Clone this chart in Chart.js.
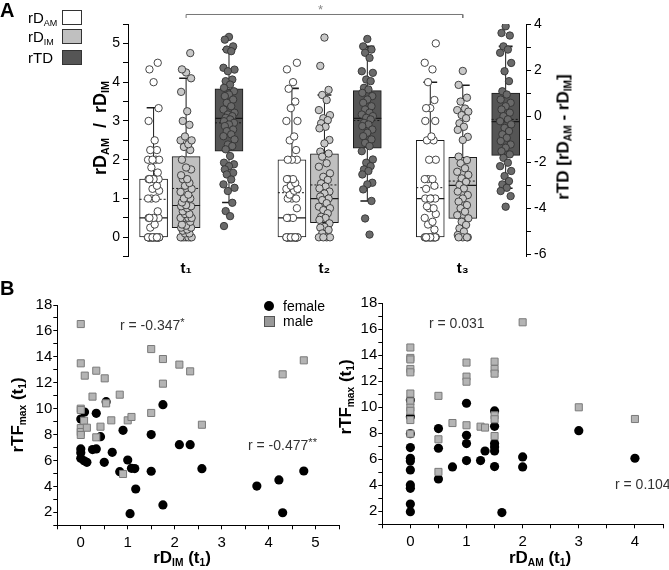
<!DOCTYPE html>
<html><head><meta charset="utf-8">
<script src="https://cdn.jsdelivr.net/npm/chart.js@4.4.1/dist/chart.umd.min.js"></script>
<style>
body{margin:0;background:#fff;width:669px;height:570px;position:relative;overflow:hidden;font-family:'Liberation Sans',Arial,Helvetica,sans-serif;color:#000}
canvas{position:absolute}
.t{position:absolute;white-space:nowrap;line-height:1}
.rot{transform:translate(-50%,-50%) rotate(-90deg)}
.ctr{transform:translate(-50%,-50%)}
.b{font-weight:bold}
sub{font-size:0.6em;vertical-align:baseline;position:relative;top:0.32em}
sup{font-size:0.8em;vertical-align:baseline;position:relative;top:-0.4em}
.lb{position:absolute;width:18px;height:13px;border:1px solid #333}
</style></head>
<body>
<canvas id="ca" width="669" height="280" style="left:0;top:0"></canvas>
<canvas id="cbl" width="345" height="290" style="left:0;top:280px"></canvas>
<canvas id="cbr" width="329" height="290" style="left:340px;top:280px"></canvas>

<div class="t b" style="left:0;top:0;font-size:20px">A</div>
<div class="t b" style="left:0;top:278px;font-size:20px">B</div>

<div class="t" style="left:28px;top:10px;font-size:15px">rD<sub>AM</sub></div>
<div class="t" style="left:28px;top:29px;font-size:15px">rD<sub>IM</sub></div>
<div class="t" style="left:28px;top:50px;font-size:15px">rTD</div>
<div class="lb" style="left:62px;top:10px;background:#fff"></div>
<div class="lb" style="left:62px;top:29px;background:#c0c0c0"></div>
<div class="lb" style="left:62px;top:50px;background:#555"></div>

<div class="t" style="left:318px;top:3px;font-size:13px;color:#888">*</div>

<div class="t b rot" style="left:100px;top:128px;font-size:18px">rD<sub>AM</sub>&nbsp; / &nbsp;rD<sub>IM</sub></div>
<div class="t b rot" style="left:563px;top:137px;font-size:17px">rTD [rD<sub>AM</sub> - rD<sub>IM</sub>]</div>

<div class="t b rot" style="left:17px;top:415px;font-size:17px">rTF<sub>max</sub> (t<sub>1</sub>)</div>
<div class="t b rot" style="left:345px;top:397px;font-size:17px">rTF<sub>max</sub> (t<sub>1</sub>)</div>
<div class="t b ctr" style="left:182px;top:557px;font-size:17px">rD<sub>IM</sub> (t<sub>1</sub>)</div>
<div class="t b ctr" style="left:540px;top:557px;font-size:17px">rD<sub>AM</sub> (t<sub>1</sub>)</div>

<div class="t" style="left:120px;top:318px;font-size:14px;color:#333">r = -0.347<sup>*</sup></div>
<div class="t" style="left:248px;top:438px;font-size:14px;color:#333">r = -0.477<sup>**</sup></div>
<div class="t" style="left:429px;top:316px;font-size:14px;color:#333">r = 0.031</div>
<div class="t" style="left:615px;top:477px;font-size:14px;color:#333">r = 0.104</div>

<div style="position:absolute;left:264px;top:301px;width:10px;height:10px;border-radius:50%;background:#000"></div>
<div class="t" style="left:283px;top:299px;font-size:14px">female</div>
<div style="position:absolute;left:264px;top:316px;width:9px;height:9px;background:#999;border:1px solid #555"></div>
<div class="t" style="left:283px;top:314px;font-size:14px">male</div>

<script>
// ---------------- DATA ----------------
const GROUP_LABELS = ['t\u2081', 't\u2082', 't\u2083'];
const SERIES_NAMES = ['rDAM', 'rDIM', 'rTD'];
// box statistics per group: [whiskerLow, q1, median, q3, whiskerHigh, mean]
const STAT_AM = [[0, 0, 0.5, 1.5, 3.34, 0.98], [0, 0, 0.5, 2.0, 3.84, 1.15], [0, 0, 1.0, 2.5, 4.0, 1.28]];
const STAT_IM = [[0, 0.25, 0.82, 2.08, 4.1, 1.26], [0, 0.38, 1.0, 2.15, 3.67, 1.35], [0, 0.49, 1.34, 2.06, 3.92, 1.45]];
const STAT_TD = [[-3.75, -1.52, -0.1, 1.19, 2.89, -0.29], [-3.68, -1.39, -0.1, 1.11, 3.03, -0.19], [-3.13, -1.7, -0.24, 1.0, 3.03, -0.14]];

const AM_T1 = [0,0,0,0,0,0,0,0,0,0,0,0,0,0,0,0,0,0,0,0,0,0,0.25,0.33,0.5,0.5,0.5,0.5,0.67,1,1,1,1.2,1.25,1.33,1.5,1.5,1.5,1.5,1.5,1.5,1.67,1.8,2,2,2,2,2.25,2.25,2.5,3,3.33,4,4.33,4.5];
const IM_T1 = [0,0,0,0,0,0,0,0.1,0.1,0.17,0.2,0.25,0.25,0.3,0.33,0.4,0.5,0.5,0.5,0.5,0.6,0.6,0.67,0.75,0.8,0.8,0.83,0.9,1,1,1.1,1.17,1.25,1.33,1.4,1.5,1.5,1.6,1.75,1.8,2,2.25,2.33,2.4,2.5,2.5,2.6,2.9,3,3.25,3.75,4.1,4.25,4.33,4.75];
const TD_T1 = [3.44,3.32,3.03,2.89,2.82,2.1,2.02,1.95,1.59,1.52,1.37,1.23,1.08,0.94,0.87,0.72,0.58,0.43,0.29,0.15,0.07,0,-0.07,-0.14,-0.22,-0.29,-0.36,-0.43,-0.58,-0.65,-0.79,-0.87,-1.01,-1.23,-1.3,-1.44,-1.73,-2.02,-2.09,-2.17,-2.31,-2.46,-2.53,-2.75,-2.96,-3.11,-3.25,-3.76,-4.12,-4.34,-4.77];
const AM_T2 = [0,0,0,0,0,0,0,0,0,0,0,0,0,0,0,0,0,0,0,0,0,0,0.5,0.5,0.5,0.75,1,1,1,1.1,1.2,1.25,1.25,1.33,1.4,1.5,1.5,1.5,2,2,2,2.25,2.5,2.6,3,3,3.33,3.5,3.83,4,4.33,4.5];
const IM_T2 = [5.15,4.42,3.8,3.67,3.54,3.28,3.15,3.07,3.02,2.94,2.85,2.81,2.51,2.42,2.21,2.16,2.08,1.91,1.82,1.65,1.56,1.48,1.39,1.31,1.26,1.18,1.13,1.05,1,0.96,0.88,0.79,0.75,0.7,0.62,0.53,0.5,0.45,0.36,0.27,0.25,0.19,0.1,0,0,0,0];
const TD_T2 = [3.35,3.03,2.89,2.75,2.53,1.95,1.88,1.59,1.52,1.23,1.16,1.01,0.87,0.72,0.58,0.43,0.29,0.15,0.07,0,-0.07,-0.14,-0.29,-0.36,-0.43,-0.58,-0.72,-0.87,-1.01,-1.16,-1.3,-1.52,-1.88,-2.02,-2.17,-2.31,-2.38,-2.53,-2.89,-2.96,-3.18,-3.68,-4.44,-5.14];
const AM_T3 = [0,0,0,0,0,0,0,0,0,0,0,0,0,0,0,0.2,0.33,0.4,0.5,0.6,0.75,0.75,0.8,1,1,1,1,1.25,1.33,1.5,1.5,1.5,2,2,2.5,2.5,2.6,3,3,3.33,3.33,3.54,4,4.33,4.5,5];
const IM_T3 = [4.29,3.93,3.6,3.5,3.32,3.28,3.24,3.15,3.07,2.94,2.85,2.77,2.59,2.51,2.08,1.99,1.91,1.78,1.69,1.61,1.52,1.43,1.35,1.26,1.18,1.09,1,0.92,0.83,0.75,0.66,0.57,0.49,0.4,0.32,0.23,0.15,0.06,0,0,0,0];
const TD_T3 = [3.9,3.61,3.5,3.03,2.89,2.75,2.31,1.95,1.52,1.08,0.94,0.72,0.58,0.43,0.29,0.15,0,-0.14,-0.22,-0.36,-0.51,-0.65,-0.79,-0.94,-1.08,-1.23,-1.37,-1.52,-1.66,-1.81,-2.02,-2.17,-2.38,-2.6,-2.82,-2.96,-3.11,-3.25,-3.47,-3.93];

const A_LEFT_LABELS = [0, 1, 2, 3, 4, 5];
const A_RIGHT_LABELS = [-6, -4, -2, 0, 2, 4];

// Panel B left: rD_IM(t1) vs rTF_max(t1)
const BL_FEMALE_X = [0.54,1.75,0.08,0.33,0,0.42,0.9,1.5,2.1,2.33,0,0,0.25,0.33,0.67,0,0.07,0.13,0.5,1.0,2.58,0.83,1.08,1.15,1.5,1.17,1.75,1.05,3.75,4.22,4.3,4.75];
const BL_FEMALE_Y = [10.54,10.31,9.74,9.64,9.2,7.84,8.33,8.0,7.22,7.22,6.89,6.6,6.84,6.89,6.63,6.17,5.98,5.86,5.86,6.04,5.37,5.14,5.4,5.38,5.17,3.8,2.57,1.9,4.03,4.5,1.97,5.19];
const BL_MALE_X = [0,0,0.085,0.33,0.51,0.25,0.83,1.5,1.75,2.1,2.33,1.75,0,0,0.54,0.07,0,0,0,0.13,0.42,0.65,1.0,1.08,0.33,1.5,2.58,0.9,4.3,4.75];
const BL_MALE_Y = [16.53,13.5,12.55,12.93,12.34,10.93,11.08,14.6,13.83,13.4,12.88,11.93,10.0,9.9,10.41,9.07,8.5,8.2,7.97,8.53,8.61,9.1,9.1,9.36,7.79,9.67,8.76,4.96,12.65,13.73];

// Panel B right: rD_AM(t1) vs rTF_max(t1)
const BR_FEMALE_X = [0,0,0,0,0,0,0,0,0,0,0,0.5,0.5,0.5,0.75,1,1,1,1,1.25,1.33,1.5,1.5,1.5,1.5,1.5,1.5,1.63,2,2,3,4];
const BR_FEMALE_Y = [10.56,9.28,7.97,6.9,6.08,5.87,5.18,4.03,3.77,2.56,1.97,8.36,6.85,4.49,5.41,10.31,7.85,7.21,5.9,5.9,6.64,9.72,8.54,7.21,6.95,6.64,5.44,1.9,6.18,5.41,8.2,6.08];
const BR_MALE_X = [0,0,0,0,0,0,0,0,0,0,0,0.5,0.5,0.5,0.75,1,1,1,1,1.25,1.33,1.5,1.5,1.5,1.5,1.5,1.5,2,3,4];
const BR_MALE_Y = [14.6,13.8,13.68,12.95,12.69,11.06,10.45,9.97,9.73,9.02,7.97,10.88,7.54,5.03,8.79,13.44,12.36,11.97,8.62,8.51,8.44,13.51,12.95,12.59,9.38,9.08,7.79,16.54,10.0,9.1];

const B_Y_LABELS = [2, 4, 6, 8, 10, 12, 14, 16, 18];

// ---------------- LAYOUT / STYLE ----------------
const GROUP_X = [1, 2, 3];
const SERIES_OFFSET = [-0.235, 0, 0.31];
const SPREAD = 0.04;
const HALF = 0.101, CAP = 0.05;
const JIT = [0,-0.75,0.75,-0.4,0.4,-1,1,-0.2,0.6,-0.6,0.2,-0.9,0.9];
const BOX_FILL = ['#ffffff', '#c0c0c0', '#555555'];
const PT_FILL = ['#ffffff', '#c8c8c8', '#6a6a6a'];

Chart.defaults.font.family = "'Liberation Sans', Arial, Helvetica, sans-serif";
Chart.defaults.color = '#000';
Chart.defaults.animation = false;
Chart.defaults.events = [];
Chart.defaults.plugins.legend.display = false;
Chart.defaults.plugins.tooltip.enabled = false;

const STATS = [STAT_AM, STAT_IM, STAT_TD];
const POINTS = [[AM_T1, AM_T2, AM_T3], [IM_T1, IM_T2, IM_T3], [TD_T1, TD_T2, TD_T3]];
const xOf = (g, s) => GROUP_X[g] + SERIES_OFFSET[s];
const axisOf = s => (s === 2 ? 'y2' : 'y');

function range(a, b, step) { const r = []; for (let v = a; v <= b + 1e-9; v += step) r.push(Math.round(v * 1000) / 1000); return r; }

const datasets = [];
// points
SERIES_NAMES.forEach((name, s) => {
  const data = [];
  POINTS[s].forEach((vals, g) => vals.forEach((v, i) => data.push({ x: xOf(g, s) + JIT[i % JIT.length] * SPREAD, y: v })));
  datasets.push({ type: 'scatter', label: name + ' points', data, yAxisID: axisOf(s), order: 0,
    pointRadius: 3.7, pointBackgroundColor: PT_FILL[s], pointBorderColor: '#333', pointBorderWidth: 0.9, showLine: false });
});
// whiskers, caps, medians, means
function segData(s, kind) {
  const out = [];
  const push = (x1, y1, x2, y2) => { out.push({ x: x1, y: y1 }, { x: x2, y: y2 }, { x: x2, y: null }); };
  STATS[s].forEach((st, g) => {
    const c = xOf(g, s); const [lo, q1, md, q3, hi, mn] = st;
    if (kind === 'whisk') { push(c, q3, c, hi); if (lo < q1) push(c, lo, c, q1); }
    if (kind === 'cap') { push(c - CAP, hi, c + CAP, hi); if (lo < q1) push(c - CAP, lo, c + CAP, lo); }
    if (kind === 'med') push(c - HALF, md, c + HALF, md);
    if (kind === 'mean') push(c - HALF, mn, c + HALF, mn);
  });
  return out;
}
SERIES_NAMES.forEach((name, s) => {
  [['whisk', 1, []], ['cap', 1.6, []], ['med', 1.2, []], ['mean', 1, [2, 2]]].forEach(([k, w, dash]) => {
    datasets.push({ type: 'line', label: name + ' ' + k, data: segData(s, k), yAxisID: axisOf(s), order: 1,
      borderColor: '#1a1a1a', borderWidth: w, borderDash: dash, pointRadius: 0, spanGaps: false, fill: false, tension: 0 });
  });
});
// boxes (floating bars q1..q3)
SERIES_NAMES.forEach((name, s) => {
  datasets.push({ type: 'bar', label: name + ' box', data: STATS[s].map((st, g) => ({ x: xOf(g, s), y: [st[1], st[3]] })),
    yAxisID: axisOf(s), order: 2, backgroundColor: BOX_FILL[s], borderColor: '#1a1a1a', borderWidth: 1,
    borderSkipped: false, barThickness: 28, grouped: false });
});
// significance bracket t1 - t3 (above plot)
datasets.push({ type: 'line', label: 'bracket', data: [{ x: GROUP_X[0], y: 5.655 }, { x: GROUP_X[0], y: 5.745 }, { x: GROUP_X[2], y: 5.745 }, { x: GROUP_X[2], y: 5.655 }],
  yAxisID: 'y', order: 1, borderColor: '#777', borderWidth: 1, pointRadius: 0, clip: false, fill: false });

const tickFont = { size: 14 };
new Chart(document.getElementById('ca'), {
  type: 'scatter',
  data: { datasets },
  options: {
    responsive: false, maintainAspectRatio: false,
    layout: { padding: { top: 24, left: 0, right: 0, bottom: 0 } },
    scales: {
      x: { type: 'linear', min: 0.58, max: 3.457, offset: false,
        grid: { display: false, drawTicks: false }, border: { display: false },
        afterBuildTicks: sc => { sc.ticks = GROUP_X.map(v => ({ value: v })); },
        ticks: { autoSkip: false, maxRotation: 0, padding: 3, color: '#000', font: { size: 15, weight: 'bold' },
          callback: v => { const i = GROUP_X.indexOf(v); return i >= 0 ? GROUP_LABELS[i] : ''; } },
        afterFit: sc => { sc.height = 23.3; } },
      y: { type: 'linear', position: 'left', min: -0.5, max: 5.5,
        afterBuildTicks: sc => { sc.ticks = range(-0.5, 5.5, 0.5).map(v => ({ value: v })); },
        ticks: { autoSkip: false, padding: 3, color: '#000', font: tickFont, callback: v => (A_LEFT_LABELS.includes(v) ? String(v) : '') },
        grid: { drawOnChartArea: false, tickLength: 5, color: '#000' }, border: { display: true, color: '#000', width: 1 },
        afterFit: sc => { sc.width = 128; } },
      y2: { type: 'linear', position: 'right', min: -6.1, max: 4,
        afterBuildTicks: sc => { sc.ticks = range(-6, 4, 1).map(v => ({ value: v })); },
        ticks: { autoSkip: false, padding: 3, color: '#000', font: tickFont, callback: v => (A_RIGHT_LABELS.includes(v) ? String(v) : '') },
        grid: { drawOnChartArea: false, tickLength: 5, color: '#000' }, border: { display: true, color: '#000', width: 1 },
        afterFit: sc => { sc.width = 143; } }
    }
  }
});

function scatterPanel(id, fx, fy, mx, my, xmax, xLabels, pad, yWidth, xHeight) {
  const zip = (a, b) => a.map((v, i) => ({ x: v, y: b[i] }));
  new Chart(document.getElementById(id), {
    type: 'scatter',
    data: { datasets: [
      { label: 'male', data: zip(mx, my), order: 0, pointStyle: 'rect', pointRadius: 5, pointBackgroundColor: '#b4b4b4', pointBorderColor: '#7a7a7a', pointBorderWidth: 1 },
      { label: 'female', data: zip(fx, fy), order: 1, pointStyle: 'circle', pointRadius: 4.6, pointBackgroundColor: '#000', pointBorderColor: '#000', pointBorderWidth: 0 }
    ] },
    options: {
      responsive: false, maintainAspectRatio: false,
      layout: { padding: pad },
      scales: {
        x: { type: 'linear', min: -0.5, max: xmax,
          afterBuildTicks: sc => { sc.ticks = range(-0.5, xmax, 0.5).map(v => ({ value: v })); },
          ticks: { autoSkip: false, maxRotation: 0, padding: 5, color: '#000', font: { size: 15 }, callback: v => (xLabels.includes(v) ? String(v) : '') },
          grid: { drawOnChartArea: false, tickLength: 4, color: '#000' }, border: { display: true, color: '#000' },
          afterFit: sc => { sc.height = xHeight; } },
        y: { type: 'linear', min: 1, max: 18,
          afterBuildTicks: sc => { sc.ticks = range(1, 18, 1).map(v => ({ value: v })); },
          ticks: { autoSkip: false, padding: 1, color: '#000', font: { size: 15 }, callback: v => (B_Y_LABELS.includes(v) ? String(v) : '') },
          grid: { drawOnChartArea: false, tickLength: 4, color: '#000' }, border: { display: true, color: '#000' },
          afterFit: sc => { sc.width = yWidth; } }
      }
    }
  });
}
scatterPanel('cbl', BL_FEMALE_X, BL_FEMALE_Y, BL_MALE_X, BL_MALE_Y, 5.5, [0, 1, 2, 3, 4, 5], { top: 25, right: 4, left: 0, bottom: 0 }, 57.3, 44.7);
scatterPanel('cbr', BR_FEMALE_X, BR_FEMALE_Y, BR_MALE_X, BR_MALE_Y, 4.5, [0, 1, 2, 3, 4], { top: 23.3, right: 1.4, left: 0, bottom: 0 }, 42.3, 45.7);
</script>
</body></html>
